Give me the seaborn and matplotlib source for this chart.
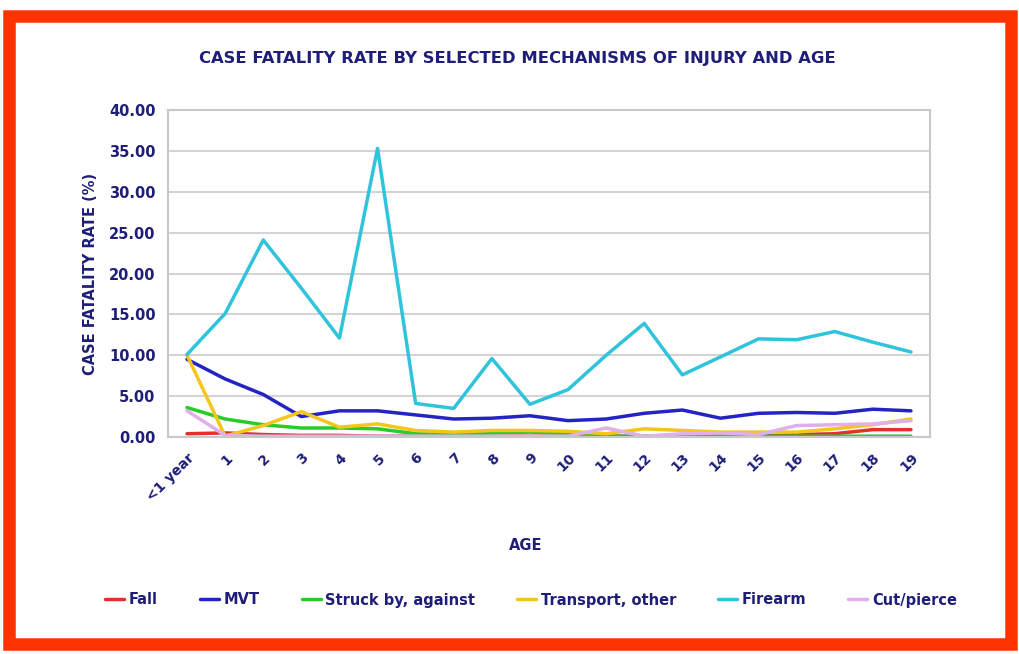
import matplotlib
matplotlib.use("Agg")
import matplotlib.pyplot as plt
from matplotlib.patches import Rectangle
from matplotlib.ticker import FixedLocator, NullFormatter
import seaborn as sns
import pandas as pd

ages = ["<1 year"] + [str(i) for i in range(1, 20)]
fall =      [0.4, 0.5, 0.3, 0.2, 0.2, 0.1, 0.1, 0.1, 0.1, 0.1, 0.1, 0.1, 0.1, 0.1, 0.1, 0.1, 0.3, 0.4, 0.9, 0.9]
mvt =       [9.5, 7.1, 5.2, 2.5, 3.2, 3.2, 2.7, 2.2, 2.3, 2.6, 2.0, 2.2, 2.9, 3.3, 2.3, 2.9, 3.0, 2.9, 3.4, 3.2]
struck =    [3.6, 2.2, 1.5, 1.1, 1.1, 1.0, 0.4, 0.3, 0.5, 0.6, 0.4, 0.1, 0.1, 0.1, 0.1, 0.1, 0.1, 0.1, 0.1, 0.1]
transport = [10.0, 0.1, 1.4, 3.1, 1.2, 1.6, 0.8, 0.6, 0.8, 0.8, 0.7, 0.4, 1.0, 0.8, 0.6, 0.6, 0.6, 1.0, 1.5, 2.2]
firearm =   [10.1, 15.1, 24.1, 18.2, 12.1, 35.3, 4.1, 3.5, 9.6, 4.0, 5.8, 10.0, 13.9, 7.6, 9.8, 12.0, 11.9, 12.9, 11.6, 10.4]
cut =       [3.2, 0.2, 0.1, 0.1, 0.1, 0.1, 0.1, 0.1, 0.1, 0.1, 0.1, 1.1, 0.1, 0.4, 0.5, 0.3, 1.4, 1.5, 1.6, 2.0]

series = {"Fall": fall, "MVT": mvt, "Struck by, against": struck,
          "Transport, other": transport, "Firearm": firearm, "Cut/pierce": cut}
colors = {"Fall": "#E2302C", "MVT": "#2424C4", "Struck by, against": "#28CC28",
          "Transport, other": "#F4C51C", "Firearm": "#30C4DC", "Cut/pierce": "#E2AEEA"}

rows = []
for name, vals in series.items():
    for i, v in enumerate(vals):
        rows.append({"idx": i, "age": ages[i], "rate": v, "mech": name})
df = pd.DataFrame(rows)

navy = "#1E1E78"
sns.set_theme(style="white")
plt.rcParams["font.family"] = ["DejaVu Sans"]

fig = plt.figure(figsize=(10.19, 6.54), dpi=100)
fig.patch.set_facecolor("white")
ax = fig.add_axes([168/1019, 1-437/654, (930-168)/1019, (437-110)/654])

sns.lineplot(data=df, x="idx", y="rate", hue="mech", palette=colors,
             hue_order=list(series.keys()), linewidth=2.5, sort=False, ax=ax, legend=False)

ax.set_xlim(-0.5, 19.5)
ax.set_ylim(0, 40)
ax.set_yticks(range(0, 41, 5))
ax.set_yticklabels([f"{v:.2f}" for v in range(0, 41, 5)], fontsize=10.5,
                   fontweight="bold", color=navy)
ax.set_xticks(range(20))
ax.set_xticklabels(ages, rotation=45, ha="right", rotation_mode="anchor",
                   fontsize=10, fontweight="bold", color=navy)
ax.tick_params(axis="x", which="major", length=0, pad=10)
ax.xaxis.set_minor_locator(FixedLocator([i - 0.5 for i in range(21)]))
ax.xaxis.set_minor_formatter(NullFormatter())
ax.tick_params(axis="x", which="minor", length=5, width=1.2, color="#C0C0C0", direction="out")
ax.tick_params(axis="y", which="major", length=5, width=1.2, color="#C0C0C0", direction="out", pad=4)

ax.grid(axis="y", color="#D4D4D4", linewidth=1.5)
ax.set_axisbelow(True)
for s in ax.spines.values():
    s.set_color("#C8C8C8")
    s.set_linewidth(1.5)

ax.set_xlabel("AGE", fontsize=10.5, fontweight="bold", color=navy)
ax.set_ylabel("CASE FATALITY RATE (%)", fontsize=10.5, fontweight="bold", color=navy, labelpad=8)
ax.xaxis.set_label_coords(0.47, -0.31)

fig.text(517/1019, 1-58/654, "CASE FATALITY RATE BY SELECTED MECHANISMS OF INJURY AND AGE",
         ha="center", va="center", fontsize=11.8, fontweight="bold", color=navy)

handles = [plt.Line2D([0], [0], color=colors[k], linewidth=2.5) for k in series]
leg = fig.legend(handles, list(series.keys()), loc="center", bbox_to_anchor=(531/1019, 1-600/654),
                 ncol=6, frameon=False, handlelength=1.3, handletextpad=0.3, columnspacing=2.9,
                 prop={"weight": "bold", "size": 10.5})
for t in leg.get_texts():
    t.set_color(navy)

fig.patches.append(Rectangle((9/1019, 1-644/654), (1011-9)/1019, (644-16)/654,
                             transform=fig.transFigure, fill=False, edgecolor="#FF3300",
                             linewidth=9, zorder=10))

fig.savefig("out.png", dpi=100, facecolor="white")
